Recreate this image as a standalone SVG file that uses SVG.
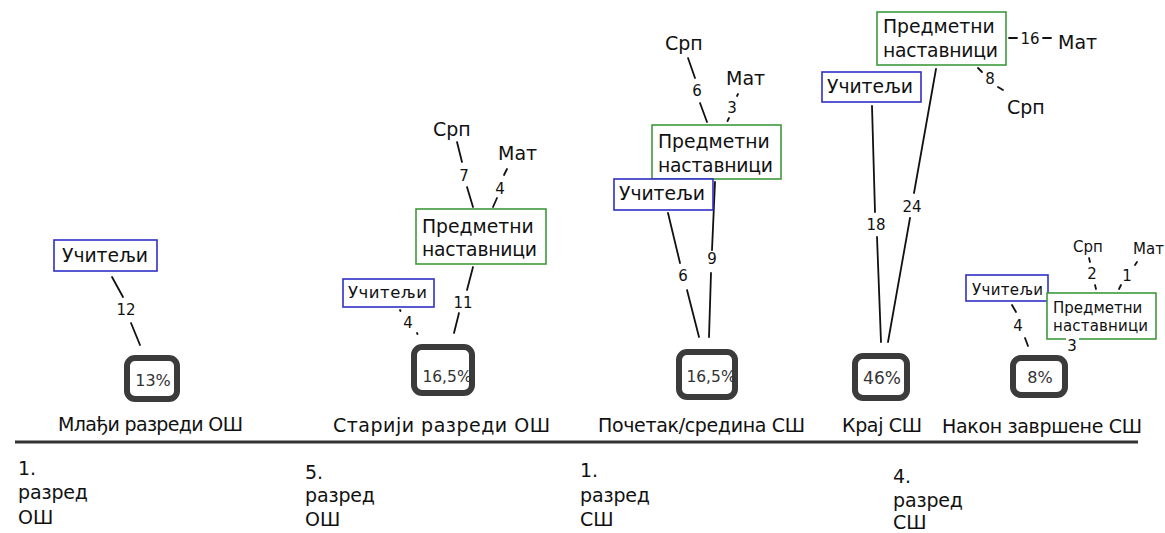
<svg xmlns="http://www.w3.org/2000/svg" width="1165" height="533" viewBox="0 0 1165 533">
  <style>
    text { font-family: "DejaVu Sans", Verdana, sans-serif; fill: #111; }
    .lbl { font-size: 19px; }
    .node-t { font-size: 18.8px; }
    .node-s { font-size: 15px; }
    .num { font-size: 15px; text-anchor: middle; }
    .sub { font-size: 19px; }
    .sub-s { font-size: 15px; }
    .teach { fill: #fff; stroke: #2f2fc8; stroke-width: 1.6; }
    .subj { fill: #fff; stroke: #3c9a3c; stroke-width: 1.6; }
    .pct { fill: #fff; stroke: #3b3b3b; stroke-width: 6; }
    .pct-t { font-size: 16px; fill: #333; text-anchor: middle; }
    .grade { font-size: 19px; }
    .conn line { stroke: #111; stroke-width: 1.8; stroke-linecap: round; }
  </style>

  <!-- timeline axis -->
  <line x1="15" y1="442" x2="1138" y2="442" stroke="#333" stroke-width="3"/>

  <!-- connectors (edge lines broken around their count labels) -->
  <g id="connectors" class="conn">
    <!-- stage 1 -->
    <line x1="112" y1="277" x2="123" y2="297"/>
    <line x1="131" y1="323" x2="140" y2="345"/>
    <text class="num" x="126" y="315">12</text>

    <!-- stage 2 -->
    <line x1="457" y1="142" x2="462" y2="162"/>
    <line x1="467" y1="187" x2="473" y2="207"/>
    <text class="num" x="464" y="181">7</text>
    <line x1="507" y1="169" x2="504" y2="175"/>
    <line x1="497" y1="198" x2="493" y2="207"/>
    <text class="num" x="500" y="194">4</text>
    <line x1="473" y1="267" x2="467" y2="290"/>
    <line x1="459" y1="313" x2="454" y2="333"/>
    <text class="num" x="463" y="308">11</text>
    <line x1="400" y1="310" x2="400.5" y2="311"/>
    <line x1="417" y1="333" x2="417.5" y2="334"/>
    <text class="num" x="408" y="328">4</text>

    <!-- stage 3 -->
    <line x1="688" y1="58" x2="695" y2="78"/>
    <line x1="700" y1="103" x2="707" y2="122"/>
    <text class="num" x="697" y="96">6</text>
    <line x1="738" y1="94" x2="737" y2="96"/>
    <line x1="729" y1="118" x2="727.5" y2="121"/>
    <text class="num" x="732" y="113">3</text>
    <line x1="668" y1="213" x2="680" y2="263"/>
    <line x1="687" y1="290" x2="699" y2="337"/>
    <text class="num" x="683" y="281">6</text>
    <line x1="715" y1="182" x2="712" y2="250"/>
    <line x1="711" y1="273" x2="709" y2="337"/>
    <text class="num" x="712" y="264">9</text>

    <!-- stage 4 -->
    <line x1="1009" y1="38" x2="1017" y2="38"/>
    <line x1="1043" y1="38" x2="1051" y2="38"/>
    <text class="num" x="1030" y="44">16</text>
    <line x1="978" y1="68" x2="982" y2="72"/>
    <line x1="998" y1="87" x2="1003" y2="90"/>
    <text class="num" x="990" y="84">8</text>
    <line x1="872" y1="106" x2="875" y2="212"/>
    <line x1="877" y1="237" x2="881" y2="342"/>
    <text class="num" x="876" y="230">18</text>
    <line x1="936" y1="69" x2="914" y2="193"/>
    <line x1="910" y1="218" x2="888" y2="342"/>
    <text class="num" x="912" y="212">24</text>

    <!-- stage 5 -->
    <line x1="1089" y1="258" x2="1090" y2="262"/>
    <line x1="1095" y1="285" x2="1096" y2="289"/>
    <text class="num" x="1092" y="279">2</text>
    <line x1="1137" y1="262" x2="1135" y2="265"/>
    <line x1="1121" y1="285" x2="1119" y2="289"/>
    <text class="num" x="1127" y="281">1</text>
    <line x1="1012" y1="305" x2="1016" y2="312"/>
    <line x1="1025" y1="338" x2="1028" y2="346"/>
    <text class="num" x="1018" y="331">4</text>
  </g>

  <!-- stage 1: younger primary grades -->
  <g id="s1-teachers">
    <rect class="teach" x="54" y="240" width="103" height="31"/>
    <text class="node-t" x="62" y="262" textLength="86">Учитељи</text>
  </g>
  <g id="s1-pct">
    <rect class="pct" x="127" y="358" width="50" height="41" rx="8"/>
    <text class="pct-t" x="153" y="386">13%</text>
  </g>
  <text class="lbl" x="58" y="431" textLength="185">Млађи разреди ОШ</text>

  <!-- stage 2: older primary grades -->
  <g id="s2-srp"><text class="sub" x="433" y="136">Срп</text></g>
  <g id="s2-mat"><text class="sub" x="498" y="160">Мат</text></g>
  <g id="s2-subject">
    <rect class="subj" x="416" y="209" width="130" height="55"/>
    <text class="node-t" x="422" y="233">Предметни</text>
    <text class="node-t" x="422" y="256" textLength="115">наставници</text>
  </g>
  <g id="s2-teachers">
    <rect class="teach" x="343" y="279" width="91" height="28"/>
    <text class="node-t" x="348" y="298" style="font-size:16.5px" textLength="79">Учитељи</text>
  </g>
  <g id="s2-pct">
    <rect class="pct" x="414" y="347" width="58" height="46" rx="8"/>
    <text class="pct-t" x="447" y="382" style="font-size:15.5px">16,5%</text>
  </g>
  <text class="lbl" x="333" y="432" textLength="217">Старији разреди ОШ</text>

  <!-- stage 3: start / middle of secondary school -->
  <g id="s3-srp"><text class="sub" x="665" y="50">Срп</text></g>
  <g id="s3-mat"><text class="sub" x="726" y="85">Мат</text></g>
  <g id="s3-subject">
    <rect class="subj" x="652" y="125" width="129" height="54"/>
    <text class="node-t" x="658" y="148">Предметни</text>
    <text class="node-t" x="658" y="172" textLength="115">наставници</text>
  </g>
  <g id="s3-teachers">
    <rect class="teach" x="614" y="179" width="99" height="31"/>
    <text class="node-t" x="619" y="200" textLength="86">Учитељи</text>
  </g>
  <g id="s3-pct">
    <rect class="pct" x="679" y="352" width="56" height="45" rx="8"/>
    <text class="pct-t" x="711" y="382" style="font-size:15.5px">16,5%</text>
  </g>
  <text class="lbl" x="598" y="432" textLength="207">Почетак/средина СШ</text>

  <!-- stage 4: end of secondary school -->
  <g id="s4-subject">
    <rect class="subj" x="877" y="12" width="129" height="53"/>
    <text class="node-t" x="883" y="33">Предметни</text>
    <text class="node-t" x="883" y="57" textLength="115">наставници</text>
  </g>
  <g id="s4-mat"><text class="sub" x="1058" y="49">Мат</text></g>
  <g id="s4-srp"><text class="sub" x="1007" y="114">Срп</text></g>
  <g id="s4-teachers">
    <rect class="teach" x="822" y="72" width="99" height="30"/>
    <text class="node-t" x="827" y="93" textLength="86">Учитељи</text>
  </g>
  <g id="s4-pct">
    <rect class="pct" x="855" y="356" width="52" height="42" rx="8"/>
    <text class="pct-t" x="882" y="384" style="font-size:17px">46%</text>
  </g>
  <text class="lbl" x="842" y="432" textLength="80">Крај СШ</text>

  <!-- stage 5: after secondary school -->
  <g id="s5-srp"><text class="sub-s" x="1073" y="252">Срп</text></g>
  <g id="s5-mat"><text class="sub-s" x="1133" y="254">Мат</text></g>
  <g id="s5-teachers">
    <rect class="teach" x="966" y="275" width="82" height="26"/>
    <text class="node-s" x="972" y="295" textLength="71">Учитељи</text>
  </g>
  <g id="s5-subject">
    <rect class="subj" x="1047" y="293" width="109" height="46"/>
    <text class="node-s" x="1053" y="313">Предметни</text>
    <text class="node-s" x="1053" y="331" textLength="95">наставници</text>
    <rect x="1066" y="336" width="13" height="5" fill="#fff"/>
    <text class="num" x="1072" y="351">3</text>
  </g>
  <g id="s5-pct">
    <rect class="pct" x="1013" y="358" width="52" height="37" rx="8"/>
    <text class="pct-t" x="1040" y="383">8%</text>
  </g>
  <text class="lbl" x="942" y="433" textLength="200">Након завршене СШ</text>

  <!-- grade markers under the axis -->
  <g id="grades">
    <text class="grade" x="18" y="475">1.</text>
    <text class="grade" x="18" y="499" textLength="70">разред</text>
    <text class="grade" x="18" y="524">ОШ</text>

    <text class="grade" x="305" y="479">5.</text>
    <text class="grade" x="305" y="502" textLength="70">разред</text>
    <text class="grade" x="305" y="526">ОШ</text>

    <text class="grade" x="580" y="477">1.</text>
    <text class="grade" x="580" y="502" textLength="70">разред</text>
    <text class="grade" x="580" y="526">СШ</text>

    <text class="grade" x="893" y="483">4.</text>
    <text class="grade" x="893" y="507" textLength="70">разред</text>
    <text class="grade" x="893" y="529">СШ</text>
  </g>
</svg>
